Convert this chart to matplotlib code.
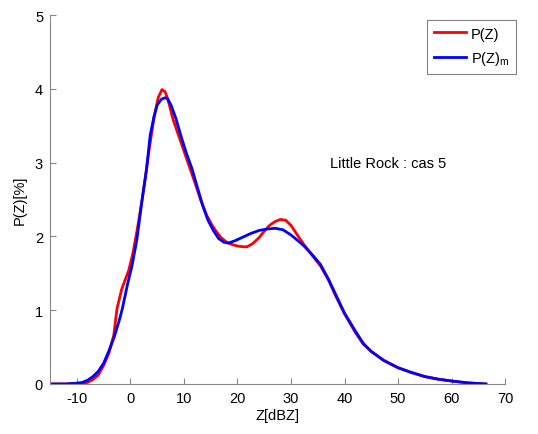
import numpy as np
import matplotlib
matplotlib.use("Agg")
from matplotlib import pyplot as plt

plt.rcParams['font.family'] = ['Liberation Sans', 'DejaVu Sans']
plt.rcParams['axes.unicode_minus'] = False

# P(Z) observed (red)
z_obs = [-15, -12, -10, -9, -8, -7, -6, -5, -4, -3.1, -2.5, -1.6, -0.3, 0.5, 1.3,
         2.2, 2.8, 3.6, 4.4, 5.2, 5.9, 6.5, 7.0, 8, 9, 10, 11, 12.1, 13.1, 14.3,
         15.2, 16, 17, 18, 19, 20, 21, 21.8, 22.8, 24, 25, 26, 27, 28, 29, 30,
         31, 32.3, 34, 35.5, 37, 38.3, 40, 42, 43.5, 45, 47.3, 50, 52.3, 55,
         57.5, 60, 63, 66.4]
p_obs = [0.0, 0.0, 0.01, 0.01, 0.02, 0.06, 0.12, 0.25, 0.42, 0.66, 1.02, 1.29,
         1.54, 1.78, 2.1, 2.5, 2.8, 3.22, 3.6, 3.88, 3.99, 3.96, 3.86, 3.58, 3.37,
         3.16, 2.95, 2.72, 2.5, 2.28, 2.16, 2.07, 1.98, 1.92, 1.89, 1.87, 1.86,
         1.86, 1.9, 1.98, 2.07, 2.15, 2.2, 2.23, 2.22, 2.15, 2.04, 1.9, 1.74,
         1.6, 1.41, 1.2, 0.95, 0.7, 0.54, 0.44, 0.32, 0.22, 0.16, 0.1, 0.065,
         0.04, 0.015, 0.0]

# P(Z)_m model (blue)
z_mod = [-15, -12, -10, -9, -8, -7, -6, -5, -4, -3, -2, -1.5, -0.5, 0.3, 1.2,
         2.2, 3.0, 3.7, 4.4, 5.0, 5.8, 6.5, 6.9, 7.6, 8.5, 9.5, 10.5, 11.5, 12.5,
         13.5, 14.5, 15.5, 16.5, 17.5, 18.3, 19.5, 21, 22.5, 24, 25.5, 27.1,
         28.5, 30, 31, 32.3, 34, 35.5, 37, 38.3, 40, 42, 43.5, 45, 47.3, 50,
         52.3, 55, 57.5, 60, 63, 66.4]
p_mod = [0.0, 0.0, 0.01, 0.02, 0.05, 0.1, 0.17, 0.28, 0.45, 0.64, 0.88, 1.02,
         1.36, 1.6, 1.95, 2.5, 2.9, 3.37, 3.62, 3.78, 3.86, 3.88, 3.87, 3.78,
         3.6, 3.35, 3.12, 2.92, 2.67, 2.42, 2.22, 2.08, 1.97, 1.92, 1.91, 1.94,
         1.99, 2.04, 2.08, 2.1, 2.11, 2.09, 2.02, 1.96, 1.88, 1.75, 1.62, 1.42,
         1.22, 0.96, 0.72, 0.55, 0.44, 0.32, 0.22, 0.16, 0.1, 0.065, 0.04,
         0.015, 0.0]

fig = plt.figure(figsize=(5.38, 4.35), dpi=100)
ax = fig.add_axes([0.093, 0.115, 0.846, 0.848])

ax.plot(z_obs, p_obs, color='#ff0000', lw=2.0, label='P(Z)')
ax.plot(z_mod, p_mod, color='#0000ff', lw=2.0, label='P(Z)$_\\mathregular{m}$')

ax.set_xlim(-15, 70)
ax.set_ylim(0, 5)
ax.set_xticks(np.arange(-10, 71, 10))
ax.set_yticks(np.arange(0, 6, 1))

for s in ['top', 'right']:
    ax.spines[s].set_visible(False)
for s in ['left', 'bottom']:
    ax.spines[s].set_color('#888888')
    ax.spines[s].set_linewidth(0.8)
ax.tick_params(direction='in', length=4, color='#888888', labelsize=10.5,
               labelcolor='black', pad=5)

ax.set_xlabel('Z[dBZ]', fontsize=10.5, labelpad=2)
ax.set_ylabel('P(Z)[%]', fontsize=10.5, labelpad=6)

ax.text(37.3, 3.0, 'Little Rock : cas 5', fontsize=10.5, ha='left', va='center')

leg = ax.legend(loc='upper right', bbox_to_anchor=(516 / 538, 1 - 21 / 435),
                bbox_transform=fig.transFigure, fontsize=10.5, frameon=True,
                fancybox=False, handlelength=2.2, handletextpad=0.35,
                borderpad=0.45, labelspacing=0.6, borderaxespad=0)
leg.get_frame().set_edgecolor('#666666')
leg.get_frame().set_linewidth(0.8)

fig.savefig('out.png', dpi=100)
